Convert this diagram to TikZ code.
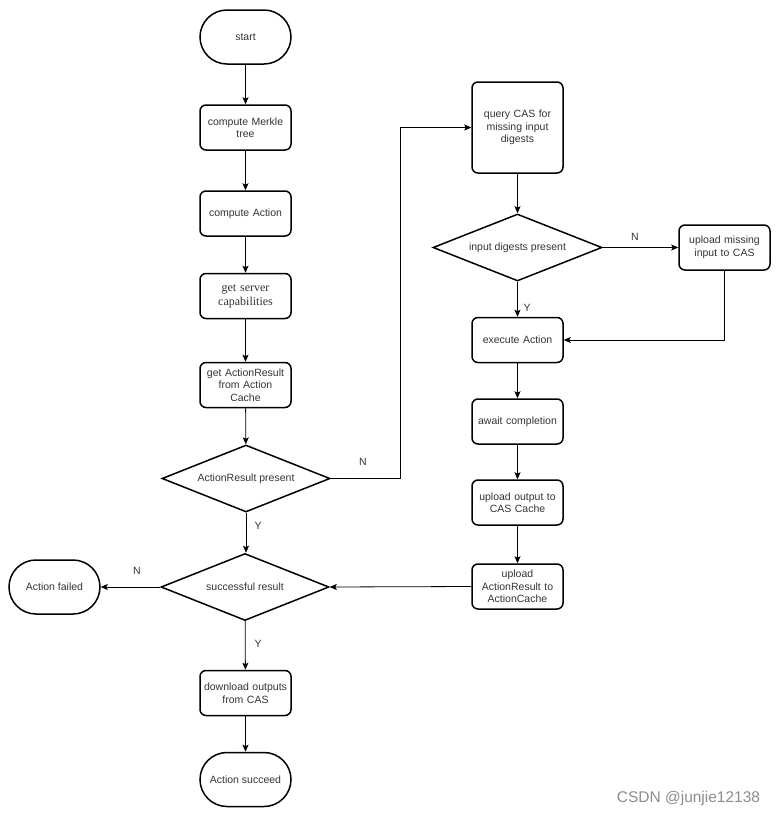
\documentclass[tikz,border=0pt]{standalone}
\usepackage{fontspec}
\setmainfont{Liberation Sans}
\newfontfamily\serifface{Liberation Serif}
\usetikzlibrary{shapes.geometric,arrows.meta}
\definecolor{txt}{HTML}{333333}
\begin{document}
\begin{tikzpicture}[x=1pt,y=-1pt,
  every node/.style={font=\fontsize{10.5}{12.5}\selectfont,text=txt},
  procbox/.style={draw=black,line width=1.5pt,rounded corners=6pt,minimum width=91pt,minimum height=45pt,inner sep=1pt,text width=89pt,align=center},
  termbox/.style={draw=black,line width=1.5pt,rounded corners=27pt,minimum width=91pt,minimum height=54pt,inner sep=1pt,align=center},
  decide/.style={draw=black,line width=1.5pt,diamond,aspect=2.5,minimum width=168pt,minimum height=67pt,inner sep=0pt,align=center},
  conn/.style={draw=black,line width=0.8pt,-{Stealth[length=7pt,width=6pt,inset=1.5pt]}},
  lab/.style={font=\fontsize{10.5}{12.5}\selectfont}]
\useasboundingbox (0,0) rectangle (780,817);
% left column
\node[termbox] (start) at (245.5,37) {start};
\node[procbox] (merkle) at (245.5,127.5) {compute Merkle\\tree};
\node[procbox] (action) at (245.5,213.5) {compute Action};
\node[procbox,font=\serifface\fontsize{12}{14}\selectfont] (caps) at (245.5,296) {get server\\capabilities};
\node[procbox] (getar) at (245.5,385) {get ActionResult\\from Action\\Cache};
\node[decide] (arp) at (246,478.5) {ActionResult present};
\node[decide] (succ) at (245,587) {successful result};
\node[termbox] (failed) at (54.5,587) {Action failed};
\node[procbox] (download) at (245.5,693) {download outputs\\from CAS};
\node[termbox] (succeed) at (245.5,779.5) {Action succeed};
% right column
\node[procbox,minimum height=91pt] (query) at (517.5,127.5) {query CAS for\\missing input\\digests};
\node[decide,minimum width=169pt] (idp) at (517.5,247.5) {input digests present};
\node[procbox] (upmiss) at (724.5,247.5) {upload missing\\input to CAS};
\node[procbox] (exec) at (517.5,340) {execute Action};
\node[procbox] (await) at (517.5,421.5) {await completion};
\node[procbox] (upout) at (517.5,502.5) {upload output to\\CAS Cache};
\node[procbox] (upar) at (517.5,586.5) {upload\\ActionResult to\\ActionCache};
% connectors
\draw[conn] (start) -- (merkle);
\draw[conn] (merkle) -- (action);
\draw[conn] (action) -- (caps);
\draw[conn] (caps) -- (getar);
\draw[conn] (getar) -- (arp);
\draw[conn] (arp) -- (arp.south |- succ.north);
\draw[conn] (succ) -- (failed);
\draw[conn] (succ) -- (download);
\draw[conn] (download) -- (succeed);
\draw[conn] (arp.east) -- (400,478.5) |- (query.west);
\draw[conn] (query) -- (idp);
\draw[conn] (idp) -- (upmiss);
\draw[conn] (idp) -- (exec);
\draw[conn] (upmiss.south) |- (exec.east);
\draw[conn] (exec) -- (await);
\draw[conn] (await) -- (upout);
\draw[conn] (upout) -- (upar);
\draw[conn] (upar.west) -- (succ.east);
% labels
\node[lab] (lN1) at (363,462) {N};
\node[lab] (lY1) at (258,526) {Y};
\node[lab] (lN2) at (137,571) {N};
\node[lab] (lY2) at (258,644) {Y};
\node[lab] (lN3) at (635,237) {N};
\node[lab] (lY3) at (527,308) {Y};
\node[font=\fontsize{15.5}{17}\selectfont,text=black!45] (wm) at (688.5,798) {CSDN @junjie12138};
\end{tikzpicture}
\end{document}
